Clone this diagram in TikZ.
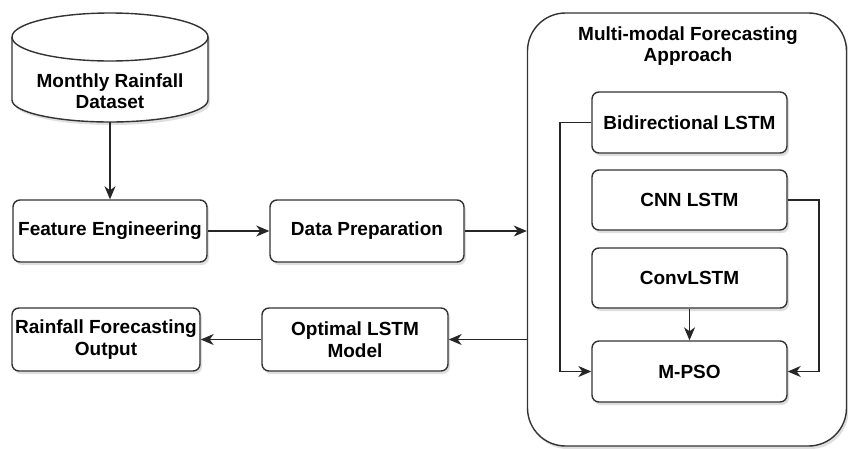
\documentclass[tikz,border=0pt]{standalone}
\usepackage{fontspec}
\setmainfont{Liberation Sans}
\usetikzlibrary{arrows.meta,shadows}
\begin{document}
\begin{tikzpicture}[x=1pt,y=-1pt,
  box/.style={draw=black!80, line width=1.4pt, rounded corners=7pt, fill=white,
    drop shadow={shadow xshift=2pt,shadow yshift=-3pt,fill=black!25,opacity=0.5},
    font=\fontsize{19}{21.5}\selectfont\bfseries, align=center, inner sep=0pt},
  lbl/.style={font=\fontsize{19}{21.5}\selectfont\bfseries, align=center, inner sep=0pt},
  conn/.style={line width=1.4pt, draw=black!85, -{Stealth[length=13pt,width=11pt,inset=4pt]}}]
\useasboundingbox (0,0) rectangle (848,448);
% container
\node[draw=black!80, line width=1.4pt, rounded corners=38pt, fill=white,
  drop shadow={shadow xshift=2pt,shadow yshift=-3pt,fill=black!25,opacity=0.5},
  minimum width=319pt, minimum height=433pt, inner sep=0pt] (cont) at (687,229.5) {};
\node[lbl] (title) at (688,46) {Multi-modal Forecasting\\Approach};
% cylinder
\path[draw=black!80, line width=1.4pt, fill=white,
  drop shadow={shadow xshift=2pt,shadow yshift=-3pt,fill=black!25,opacity=0.5}]
  (12,37) -- (12,100) arc[start angle=180, end angle=0, x radius=98, y radius=22]
  -- (208,37) arc[start angle=0, end angle=-180, x radius=98, y radius=24] -- cycle;
\draw[black!80, line width=1.4pt] (12,37) arc[start angle=180, end angle=0, x radius=98, y radius=24];
\node[lbl] (data) at (110,91) {Monthly Rainfall\\Dataset};
\coordinate (databot) at (110,122);
% boxes
\node[box, minimum width=194pt, minimum height=62pt] (fe) at (110,231) {Feature Engineering};
\node[box, minimum width=194pt, minimum height=62pt] (dp) at (367,231) {Data Preparation};
\node[box, minimum width=188pt, minimum height=63pt] (out) at (106,339.5) {Rainfall Forecasting\\Output};
\node[box, minimum width=186pt, minimum height=63pt] (opt) at (355,339.5) {Optimal LSTM\\Model};
\node[box, minimum width=195pt, minimum height=61pt] (bi) at (689.5,122.5) {Bidirectional LSTM};
\node[box, minimum width=195pt, minimum height=60pt] (cnn) at (689.5,200) {CNN LSTM};
\node[box, minimum width=195pt, minimum height=60pt] (conv) at (689.5,278) {ConvLSTM};
\node[box, minimum width=195pt, minimum height=61pt] (mpso) at (689.5,371.5) {M-PSO};
% connectors
\draw[conn] (databot) -- (fe.north);
\draw[conn] (fe.east) -- (dp.west);
\draw[conn] (dp.east) -- (dp.east -| cont.west);
\draw[conn] (opt.east -| cont.west) -- (opt.east);
\draw[conn] (opt.west) -- (out.east);
\draw[conn] (conv.south) -- (mpso.north);
\coordinate (bl) at (560,0);
\coordinate (cr) at (819,0);
\draw[conn] (bi.west) -- (bi.west -| bl) -- (mpso.west -| bl) -- (mpso.west);
\draw[conn] (cnn.east) -- (cnn.east -| cr) -- (mpso.east -| cr) -- (mpso.east);
\end{tikzpicture}
\end{document}
